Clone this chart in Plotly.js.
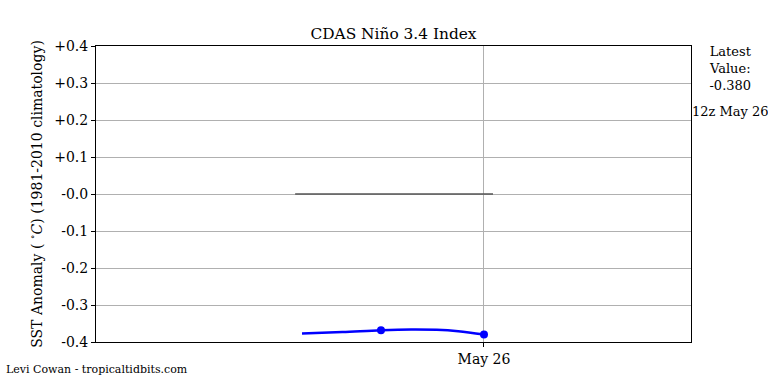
<!DOCTYPE html>
<html>
<head>
<meta charset="utf-8">
<script src="https://cdn.plot.ly/plotly-3.0.1.min.js"></script>
<style>html,body{margin:0;padding:0;background:#fff;}#chart{width:768px;height:384px;}</style>
</head>
<body>
<div id="chart"></div>
<script>
// Smoothed index curve
const lineTimes = ['2024-05-25 02:48','2024-05-25 07:30','2024-05-25 12:00','2024-05-25 15:30','2024-05-25 18:30','2024-05-25 21:00','2024-05-26 00:00'];
const lineValues = [-0.377, -0.373, -0.368, -0.366, -0.367, -0.371, -0.380];
// Marked observations
const markTimes = ['2024-05-25 12:00','2024-05-26 00:00'];
const markValues = [-0.368, -0.380];
// Zero reference segment
const zeroTimes = ['2024-05-25 02:00','2024-05-26 01:03'];
const zeroValues = [0, 0];
// Axis ticks
const yTickVals = [0.4, 0.3, 0.2, 0.1, 0.0, -0.1, -0.2, -0.3, -0.4];
const yTickText = ['+0.4','+0.3','+0.2','+0.1','-0.0','-0.1','-0.2','-0.3','-0.4'];
const xTickVals = ['2024-05-26 00:00'];
const xTickText = ['May 26'];
const latestValue = '-0.380';
const latestTime = '12z May 26';

const font = 'DejaVu Serif';
const data = [
  {x: zeroTimes, y: zeroValues, type: 'scatter', mode: 'lines', line: {color: '#555555', width: 1.5}, hoverinfo: 'skip'},
  {x: lineTimes, y: lineValues, type: 'scatter', mode: 'lines', line: {color: '#0000ff', width: 2.5, shape: 'spline'}},
  {x: markTimes, y: markValues, type: 'scatter', mode: 'markers', marker: {color: '#0000ff', size: 8}}
];
const layout = {
  width: 768, height: 384,
  margin: {l: 96, r: 77, t: 46, b: 42},
  paper_bgcolor: '#ffffff', plot_bgcolor: '#ffffff',
  showlegend: false,
  font: {family: font, color: '#000', size: 14},
  title: {text: 'CDAS Niño 3.4 Index', font: {family: font, size: 15.4, color: '#000'}, xref: 'paper', x: 0.5, xanchor: 'center', y: 0.913, yanchor: 'middle'},
  xaxis: {
    type: 'date',
    range: ['2024-05-24 02:48', '2024-05-27 00:07'],
    tickvals: xTickVals, ticktext: xTickText,
    showgrid: true, gridcolor: '#b0b0b0', gridwidth: 1,
    showline: true, linecolor: '#000', linewidth: 1, mirror: true,
    ticks: 'outside', ticklen: 4, tickcolor: '#000',
    zeroline: false, tickfont: {family: font, size: 14, color: '#000'}
  },
  yaxis: {
    range: [-0.4, 0.4],
    tickvals: yTickVals, ticktext: yTickText,
    showgrid: true, gridcolor: '#b0b0b0', gridwidth: 1,
    showline: true, linecolor: '#000', linewidth: 1, mirror: true,
    ticks: 'outside', ticklen: 4, tickcolor: '#000',
    zeroline: false, tickfont: {family: font, size: 14, color: '#000'},
    title: {text: 'SST Anomaly ( <sup>∘</sup><i>C</i>) (1981-2010 climatology)', font: {family: font, size: 14, color: '#000'}, standoff: 8}
  },
  annotations: [
    {text: 'Latest<br>Value:<br>' + latestValue, xref: 'paper', yref: 'paper', x: 1.066, y: 1.015, xanchor: 'center', yanchor: 'top', showarrow: false, font: {family: font, size: 13}, align: 'center'},
    {text: latestTime, xref: 'paper', yref: 'paper', x: 1.066, y: 0.78, xanchor: 'center', yanchor: 'middle', showarrow: false, font: {family: font, size: 13}},
    {text: 'Levi Cowan - tropicaltidbits.com', xref: 'paper', yref: 'paper', x: -0.155, y: -0.065, xanchor: 'left', yanchor: 'top', showarrow: false, font: {family: font, size: 11}}
  ]
};
Plotly.newPlot('chart', data, layout, {displayModeBar: false, staticPlot: true});
</script>
</body>
</html>
